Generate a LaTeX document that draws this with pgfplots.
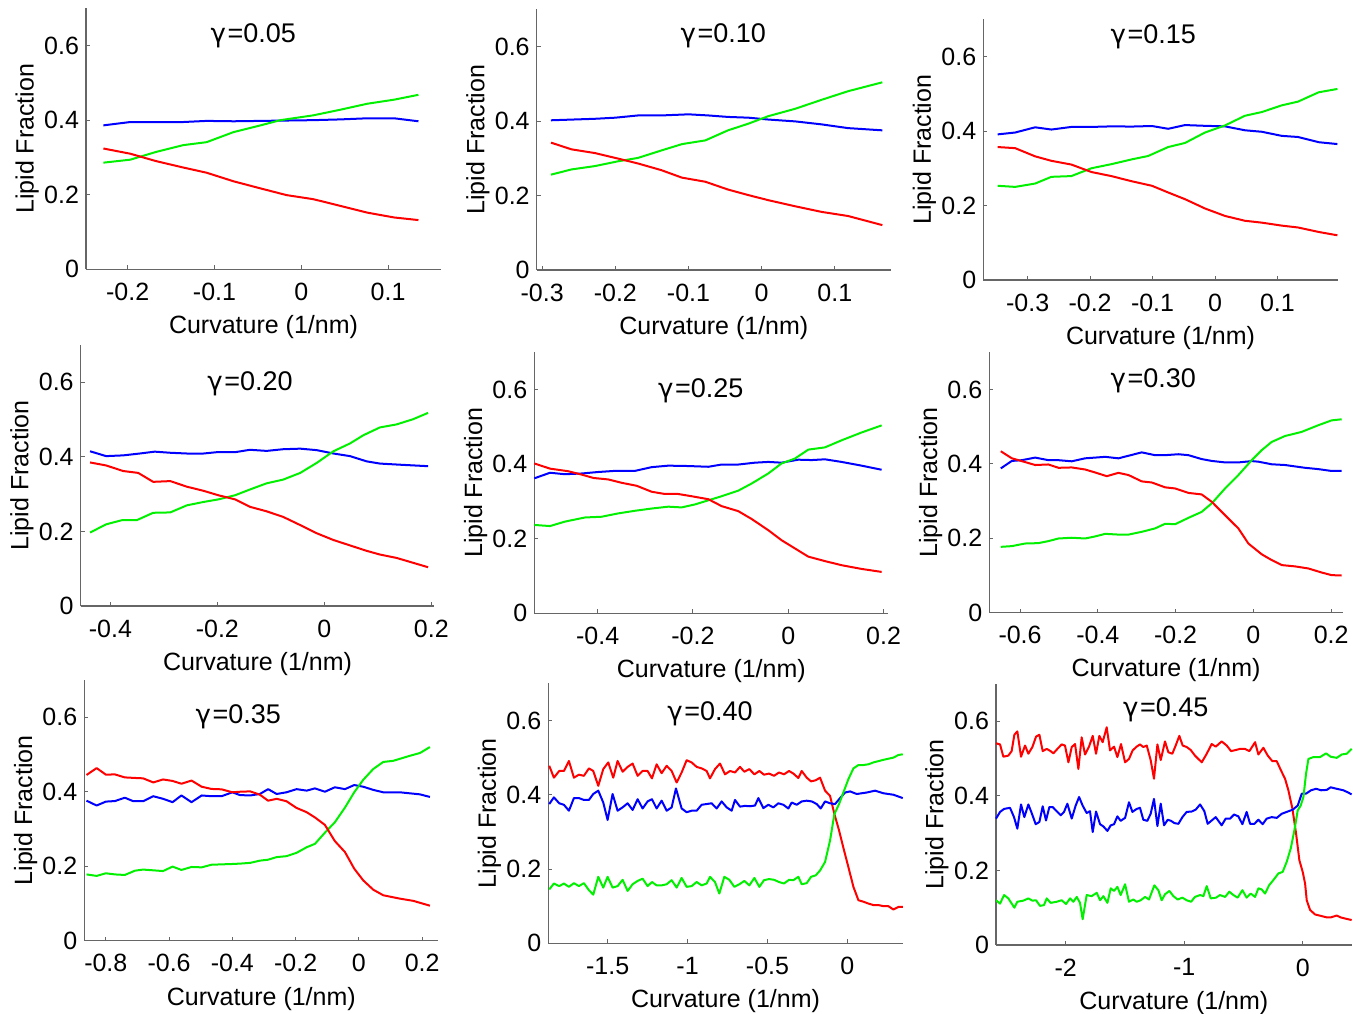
\documentclass[border=0pt]{standalone}
\usepackage{fontspec}
\setmainfont{Liberation Sans}
\newfontfamily\gfont{DejaVu Sans}
\usepackage{pgfplots}
\pgfplotsset{compat=1.18}
\definecolor{axgray}{gray}{0.4}
\definecolor{cR}{rgb}{1,0,0}
\definecolor{cG}{rgb}{0,0.94,0}
\definecolor{cB}{rgb}{0,0,1}
\newcommand\tfs{\fontsize{12.5}{15}\selectfont}
\newcommand\ttfs{\fontsize{13.5}{16}\selectfont}
\newcommand\gam[1]{{\gfont\fontsize{13}{16}\selectfont γ}\kern0.8pt=#1}
\pgfplotsset{
  panel/.style={
    scale only axis, anchor=south west,
    ymin=0, ymax=0.7, ytick={0,0.2,0.4,0.6},
    axis x line*=bottom, axis y line*=left,
    axis line style={draw=axgray,line width=0.6pt},
    tick style={draw=axgray,line width=0.5pt},
    tick align=inside, major tick length=2pt,
    /pgf/number format/assume math mode=true,
    ticklabel style={font=\tfs},
    x tick label style={yshift=-3.3pt},
    xlabel={Curvature (1/nm)}, ylabel={Lipid Fraction},
    label style={font=\tfs},
    x label style={at={(axis description cs:0.5,-0.222)},anchor=center},
    y label style={at={(axis description cs:-0.166,0.5)},anchor=center},
    every axis plot/.append style={line width=1pt, line join=round, no marks},
    clip=false,
  },
  R/.style={draw=cR}, G/.style={draw=cG}, B/.style={draw=cB},
}
\begin{document}
\begin{tikzpicture}
\useasboundingbox (0,0) rectangle (676.5pt,506.5pt);
% ---------- gamma = 0.05
\begin{axis}[panel, at={(43pt,371.85pt)}, width=177.5pt, height=130.5pt,
  xmin=-0.248, xmax=0.161, xtick={-0.2,-0.1,0,0.1}]
\addplot[B] coordinates {(-0.228,0.386) (-0.197,0.395) (-0.167,0.395) (-0.136,0.395) (-0.109,0.398) (-0.078,0.397) (-0.047,0.398) (-0.017,0.399) (0.014,0.400) (0.045,0.402) (0.076,0.405) (0.107,0.405) (0.135,0.397)};
\addplot[G] coordinates {(-0.228,0.286) (-0.197,0.294) (-0.167,0.315) (-0.136,0.333) (-0.109,0.341) (-0.078,0.368) (-0.047,0.386) (-0.024,0.400) (0.014,0.413) (0.045,0.428) (0.076,0.444) (0.107,0.455) (0.135,0.468)};
\addplot[R] coordinates {(-0.228,0.324) (-0.197,0.310) (-0.167,0.290) (-0.136,0.273) (-0.109,0.259) (-0.078,0.236) (-0.047,0.217) (-0.017,0.199) (0.014,0.188) (0.045,0.170) (0.076,0.152) (0.107,0.139) (0.135,0.132)};
\end{axis}
% ---------- gamma = 0.10
\begin{axis}[panel, at={(268.35pt,371.5pt)}, width=177.15pt, height=130.35pt,
  xmin=-0.3075, xmax=0.1768, xtick={-0.3,-0.2,-0.1,0,0.1}]
\addplot[B] coordinates {(-0.288,0.402) (-0.228,0.406) (-0.200,0.409) (-0.169,0.415) (-0.137,0.415) (-0.100,0.418) (-0.073,0.415) (-0.046,0.411) (-0.018,0.409) (0.009,0.404) (0.046,0.399) (0.082,0.391) (0.118,0.381) (0.165,0.375)};
\addplot[G] coordinates {(-0.288,0.256) (-0.260,0.270) (-0.228,0.279) (-0.196,0.292) (-0.169,0.301) (-0.137,0.321) (-0.109,0.338) (-0.077,0.348) (-0.046,0.375) (-0.018,0.393) (0.009,0.413) (0.046,0.433) (0.082,0.457) (0.118,0.480) (0.165,0.504)};
\addplot[R] coordinates {(-0.288,0.342) (-0.260,0.324) (-0.228,0.314) (-0.196,0.299) (-0.169,0.286) (-0.137,0.268) (-0.109,0.248) (-0.077,0.237) (-0.046,0.216) (-0.018,0.201) (0.009,0.1875) (0.046,0.171) (0.082,0.156) (0.118,0.145) (0.165,0.1205)};
\end{axis}
% ---------- gamma = 0.15
\begin{axis}[panel, at={(491.65pt,366.5pt)}, width=177.2pt, height=130.35pt,
  xmin=-0.371, xmax=0.1965, xtick={-0.3,-0.2,-0.1,0,0.1}]
\addplot[B] coordinates {(-0.348,0.391) (-0.320,0.396) (-0.288,0.410) (-0.262,0.404) (-0.230,0.411) (-0.198,0.411) (-0.166,0.4125) (-0.133,0.412) (-0.101,0.4135) (-0.075,0.406) (-0.048,0.416) (-0.016,0.414) (0.016,0.4125) (0.048,0.402) (0.075,0.398) (0.107,0.387) (0.133,0.384) (0.166,0.370) (0.196,0.365)};
\addplot[G] coordinates {(-0.348,0.253) (-0.320,0.250) (-0.288,0.259) (-0.262,0.277) (-0.230,0.279) (-0.198,0.300) (-0.166,0.311) (-0.133,0.324) (-0.107,0.333) (-0.075,0.357) (-0.048,0.368) (-0.016,0.396) (0.016,0.415) (0.048,0.441) (0.075,0.451) (0.107,0.469) (0.133,0.479) (0.166,0.504) (0.196,0.513)};
\addplot[R] coordinates {(-0.348,0.357) (-0.320,0.354) (-0.288,0.332) (-0.262,0.320) (-0.230,0.310) (-0.198,0.290) (-0.166,0.279) (-0.133,0.265) (-0.101,0.253) (-0.075,0.235) (-0.048,0.217) (-0.016,0.192) (0.016,0.172) (0.048,0.159) (0.075,0.154) (0.107,0.146) (0.133,0.141) (0.166,0.129) (0.196,0.120)};
\end{axis}
% ---------- gamma = 0.20
\begin{axis}[panel, at={(40.35pt,203.5pt)}, width=176.8pt, height=130.5pt,
  xmin=-0.4555, xmax=0.2056, xtick={-0.4,-0.2,0,0.2}]
\addplot[B] coordinates {(-0.438,0.415) (-0.408,0.402) (-0.376,0.404) (-0.345,0.409) (-0.317,0.414) (-0.288,0.411) (-0.257,0.409) (-0.226,0.409) (-0.198,0.413) (-0.167,0.4125) (-0.139,0.419) (-0.108,0.416) (-0.077,0.4205) (-0.045,0.422) (-0.014,0.418) (0.017,0.409) (0.048,0.402) (0.079,0.388) (0.104,0.382) (0.141,0.379) (0.194,0.375)};
\addplot[G] coordinates {(-0.438,0.197) (-0.408,0.219) (-0.379,0.230) (-0.351,0.230) (-0.320,0.250) (-0.288,0.251) (-0.257,0.270) (-0.226,0.279) (-0.198,0.286) (-0.167,0.297) (-0.139,0.3125) (-0.108,0.329) (-0.077,0.339) (-0.045,0.357) (-0.014,0.384) (0.017,0.415) (0.048,0.436) (0.073,0.458) (0.104,0.479) (0.135,0.487) (0.166,0.501) (0.194,0.518)};
\addplot[R] coordinates {(-0.438,0.385) (-0.408,0.377) (-0.376,0.362) (-0.348,0.357) (-0.320,0.333) (-0.288,0.335) (-0.257,0.320) (-0.226,0.309) (-0.198,0.297) (-0.167,0.286) (-0.139,0.266) (-0.108,0.254) (-0.077,0.239) (-0.045,0.217) (-0.014,0.195) (0.017,0.177) (0.048,0.1625) (0.079,0.148) (0.104,0.138) (0.135,0.129) (0.194,0.104)};
\end{axis}
% ---------- gamma = 0.25
\begin{axis}[panel, at={(267.15pt,199.85pt)}, width=177pt, height=130.5pt,
  xmin=-0.533, xmax=0.21, xtick={-0.4,-0.2,0,0.2}]
\addplot[B] coordinates {(-0.533,0.362) (-0.500,0.377) (-0.4685,0.373) (-0.4336,0.375) (-0.3986,0.379) (-0.3636,0.382) (-0.3217,0.382) (-0.2867,0.392) (-0.2517,0.396) (-0.2098,0.395) (-0.1678,0.393) (-0.1399,0.399) (-0.1049,0.399) (-0.0699,0.404) (-0.042,0.406) (-0.014,0.404) (0.021,0.412) (0.049,0.411) (0.077,0.413) (0.112,0.406) (0.154,0.396) (0.196,0.385)};
\addplot[G] coordinates {(-0.533,0.237) (-0.500,0.234) (-0.4685,0.246) (-0.4266,0.257) (-0.3916,0.259) (-0.3566,0.268) (-0.3217,0.275) (-0.2867,0.281) (-0.2517,0.286) (-0.2238,0.284) (-0.1958,0.292) (-0.1678,0.303) (-0.1399,0.314) (-0.1049,0.329) (-0.0769,0.348) (-0.042,0.375) (-0.014,0.402) (0.014,0.415) (0.042,0.439) (0.077,0.445) (0.112,0.464) (0.154,0.485) (0.196,0.504)};
\addplot[R] coordinates {(-0.533,0.402) (-0.500,0.388) (-0.4615,0.381) (-0.4336,0.372) (-0.409,0.363) (-0.3776,0.359) (-0.3497,0.350) (-0.318,0.342) (-0.2867,0.326) (-0.2587,0.320) (-0.2308,0.320) (-0.2028,0.314) (-0.1678,0.306) (-0.1399,0.2875) (-0.1049,0.274) (-0.0769,0.253) (-0.042,0.223) (-0.014,0.196) (0.014,0.174) (0.042,0.152) (0.077,0.140) (0.112,0.129) (0.154,0.119) (0.196,0.111)};
\end{axis}
% ---------- gamma = 0.30
\begin{axis}[panel, at={(494.65pt,200.15pt)}, width=176.7pt, height=130.2pt,
  xmin=-0.679, xmax=0.2297, xtick={-0.6,-0.4,-0.2,0,0.2}]
\addplot[B] coordinates {(-0.6495,0.388) (-0.621,0.408) (-0.5955,0.410) (-0.561,0.417) (-0.527,0.410) (-0.501,0.410) (-0.467,0.407) (-0.4327,0.415) (-0.381,0.419) (-0.347,0.415) (-0.321,0.422) (-0.287,0.431) (-0.253,0.4235) (-0.227,0.4235) (-0.193,0.426) (-0.167,0.4235) (-0.133,0.413) (-0.107,0.408) (-0.0728,0.404) (-0.0386,0.404) (-0.0043,0.4075) (0.0129,0.406) (0.047,0.399) (0.0814,0.397) (0.133,0.3895) (0.167,0.386) (0.201,0.381) (0.227,0.381)};
\addplot[G] coordinates {(-0.6495,0.177) (-0.621,0.179) (-0.587,0.186) (-0.5527,0.187) (-0.527,0.1925) (-0.501,0.1995) (-0.467,0.2015) (-0.4327,0.1995) (-0.407,0.205) (-0.381,0.212) (-0.347,0.210) (-0.321,0.210) (-0.287,0.2175) (-0.253,0.2265) (-0.227,0.239) (-0.201,0.238) (-0.167,0.255) (-0.133,0.271) (-0.107,0.294) (-0.0728,0.334) (-0.0386,0.370) (-0.0043,0.410) (0.0214,0.437) (0.047,0.459) (0.0814,0.475) (0.124,0.486) (0.167,0.504) (0.201,0.517) (0.227,0.520)};
\addplot[R] coordinates {(-0.6495,0.434) (-0.621,0.415) (-0.5955,0.4075) (-0.561,0.397) (-0.527,0.3985) (-0.501,0.3895) (-0.467,0.3905) (-0.4327,0.385) (-0.407,0.377) (-0.377,0.367) (-0.347,0.376) (-0.321,0.370) (-0.287,0.353) (-0.261,0.350) (-0.227,0.337) (-0.201,0.334) (-0.167,0.322) (-0.133,0.318) (-0.107,0.298) (-0.0728,0.262) (-0.0386,0.2265) (-0.0129,0.186) (0.0214,0.157) (0.047,0.1415) (0.0728,0.128) (0.107,0.1245) (0.141,0.119) (0.1757,0.108) (0.201,0.101) (0.227,0.100)};
\end{axis}
% ---------- gamma = 0.35
\begin{axis}[panel, at={(42.15pt,36.15pt)}, width=177pt, height=130.35pt,
  xmin=-0.868, xmax=0.251, xtick={-0.8,-0.6,-0.4,-0.2,0,0.2}]
\addplot[B] coordinates {(-0.861,0.376) (-0.829,0.363) (-0.800,0.3735) (-0.771,0.375) (-0.740,0.384) (-0.713,0.3745) (-0.682,0.3745) (-0.650,0.388) (-0.619,0.381) (-0.589,0.372) (-0.561,0.390) (-0.529,0.372) (-0.497,0.390) (-0.466,0.388) (-0.434,0.388) (-0.400,0.3985) (-0.376,0.391) (-0.3435,0.390) (-0.313,0.394) (-0.287,0.407) (-0.260,0.394) (-0.229,0.3985) (-0.197,0.407) (-0.165,0.403) (-0.139,0.409) (-0.1075,0.400) (-0.076,0.412) (-0.044,0.407) (-0.0148,0.418) (0.0137,0.4135) (0.0453,0.405) (0.077,0.3985) (0.1296,0.3985) (0.193,0.393) (0.2245,0.386)};
\addplot[G] coordinates {(-0.861,0.178) (-0.829,0.174) (-0.800,0.181) (-0.771,0.178) (-0.740,0.1765) (-0.708,0.188) (-0.682,0.191) (-0.650,0.189) (-0.619,0.187) (-0.589,0.199) (-0.561,0.190) (-0.529,0.198) (-0.497,0.197) (-0.466,0.204) (-0.434,0.205) (-0.400,0.206) (-0.376,0.207) (-0.3435,0.209) (-0.313,0.215) (-0.287,0.2175) (-0.260,0.2245) (-0.229,0.227) (-0.197,0.236) (-0.165,0.251) (-0.139,0.260) (-0.1075,0.290) (-0.076,0.318) (-0.044,0.3575) (-0.0148,0.3985) (0.0137,0.432) (0.0453,0.461) (0.077,0.480) (0.1085,0.483) (0.161,0.4965) (0.193,0.504) (0.2245,0.520)};
\addplot[R] coordinates {(-0.861,0.445) (-0.829,0.4635) (-0.800,0.446) (-0.771,0.4465) (-0.740,0.4385) (-0.708,0.437) (-0.682,0.436) (-0.650,0.425) (-0.619,0.433) (-0.589,0.429) (-0.561,0.4215) (-0.529,0.430) (-0.497,0.4135) (-0.466,0.4075) (-0.434,0.4065) (-0.400,0.3985) (-0.376,0.400) (-0.3435,0.401) (-0.313,0.392) (-0.287,0.376) (-0.260,0.381) (-0.229,0.3745) (-0.197,0.3565) (-0.165,0.345) (-0.139,0.331) (-0.1075,0.311) (-0.076,0.2675) (-0.044,0.238) (-0.0148,0.1935) (0.0137,0.162) (0.0453,0.137) (0.077,0.122) (0.1296,0.113) (0.172,0.107) (0.2245,0.094)};
\end{axis}
% ---------- gamma = 0.40
\begin{axis}[panel, at={(274.15pt,34.85pt)}, width=177.2pt, height=130pt,
  xmin=-1.871, xmax=0.346, xtick={-1.5,-1,-0.5,0}]
\addplot[R] coordinates {(-1.8652,0.478) (-1.8360,0.446) (-1.8027,0.464) (-1.7734,0.464) (-1.7421,0.491) (-1.7108,0.446) (-1.6796,0.454) (-1.6483,0.451) (-1.6170,0.471) (-1.5898,0.464) (-1.5585,0.424) (-1.5272,0.469) (-1.4959,0.487) (-1.4647,0.446) (-1.4375,0.491) (-1.4062,0.462) (-1.3749,0.475) (-1.3436,0.484) (-1.3123,0.451) (-1.2811,0.464) (-1.2498,0.464) (-1.2226,0.444) (-1.1934,0.482) (-1.1621,0.458) (-1.1308,0.478) (-1.0995,0.464) (-1.0682,0.433) (-1.0369,0.460) (-1.0056,0.493) (-0.9743,0.487) (-0.9431,0.475) (-0.9118,0.471) (-0.8805,0.464) (-0.8596,0.444) (-0.8283,0.469) (-0.7970,0.484) (-0.7657,0.455) (-0.7344,0.464) (-0.7031,0.460) (-0.6718,0.475) (-0.6447,0.462) (-0.6134,0.469) (-0.5821,0.455) (-0.5508,0.464) (-0.5216,0.454) (-0.4903,0.457) (-0.4590,0.451) (-0.4277,0.460) (-0.3964,0.455) (-0.3651,0.464) (-0.3380,0.457) (-0.3067,0.445) (-0.2858,0.464) (-0.2545,0.446) (-0.2274,0.436) (-0.1982,0.439) (-0.1711,0.446) (-0.1398,0.411) (-0.1085,0.397) (-0.0814,0.348) (-0.0522,0.304) (-0.0209,0.250) (0.0063,0.205) (0.0376,0.152) (0.0689,0.116) (0.1001,0.112) (0.1314,0.107) (0.1627,0.103) (0.1940,0.103) (0.2253,0.100) (0.2566,0.100) (0.2879,0.091) (0.3192,0.098) (0.3463,0.098)};
\addplot[B] coordinates {(-1.8652,0.375) (-1.8360,0.393) (-1.8027,0.377) (-1.7734,0.373) (-1.7421,0.357) (-1.7108,0.391) (-1.6796,0.391) (-1.6483,0.386) (-1.6170,0.386) (-1.5898,0.402) (-1.5585,0.411) (-1.5272,0.379) (-1.5001,0.332) (-1.4688,0.402) (-1.4375,0.357) (-1.4062,0.366) (-1.3749,0.377) (-1.3436,0.359) (-1.3123,0.388) (-1.2811,0.363) (-1.2498,0.382) (-1.2226,0.388) (-1.1934,0.363) (-1.1621,0.384) (-1.1308,0.357) (-1.0995,0.366) (-1.0724,0.417) (-1.0369,0.363) (-1.0056,0.353) (-0.9743,0.357) (-0.9431,0.357) (-0.9118,0.373) (-0.8805,0.375) (-0.8492,0.377) (-0.8179,0.363) (-0.7866,0.382) (-0.7553,0.366) (-0.7240,0.357) (-0.7031,0.386) (-0.6718,0.368) (-0.6405,0.370) (-0.6092,0.369) (-0.5779,0.371) (-0.5571,0.391) (-0.5258,0.364) (-0.4945,0.373) (-0.4632,0.366) (-0.4319,0.377) (-0.4006,0.373) (-0.3693,0.363) (-0.3484,0.379) (-0.3171,0.373) (-0.2858,0.382) (-0.2545,0.384) (-0.2232,0.382) (-0.1919,0.375) (-0.1669,0.363) (-0.1398,0.382) (-0.1085,0.377) (-0.0772,0.375) (-0.0459,0.391) (-0.0146,0.406) (0.0167,0.409) (0.0584,0.402) (0.1210,0.406) (0.1732,0.411) (0.2253,0.404) (0.2879,0.400) (0.3463,0.391)};
\addplot[G] coordinates {(-1.8652,0.145) (-1.8360,0.161) (-1.8027,0.154) (-1.7734,0.161) (-1.7421,0.152) (-1.7108,0.162) (-1.6796,0.154) (-1.6483,0.162) (-1.6170,0.143) (-1.5898,0.131) (-1.5585,0.179) (-1.5272,0.150) (-1.5001,0.179) (-1.4688,0.150) (-1.4375,0.154) (-1.4062,0.171) (-1.3749,0.141) (-1.3436,0.159) (-1.3123,0.168) (-1.2811,0.174) (-1.2498,0.154) (-1.2226,0.165) (-1.1934,0.156) (-1.1621,0.156) (-1.1308,0.159) (-1.0995,0.170) (-1.0682,0.150) (-1.0369,0.176) (-1.0056,0.152) (-0.9743,0.154) (-0.9431,0.165) (-0.9118,0.156) (-0.8805,0.161) (-0.8596,0.179) (-0.8283,0.165) (-0.8012,0.134) (-0.7699,0.179) (-0.7386,0.171) (-0.7073,0.152) (-0.6760,0.159) (-0.6447,0.168) (-0.6134,0.156) (-0.5821,0.176) (-0.5508,0.152) (-0.5216,0.170) (-0.4903,0.173) (-0.4590,0.171) (-0.4277,0.165) (-0.3964,0.161) (-0.3651,0.171) (-0.3380,0.170) (-0.3067,0.179) (-0.2858,0.159) (-0.2545,0.162) (-0.2274,0.179) (-0.1982,0.183) (-0.1711,0.196) (-0.1398,0.219) (-0.1085,0.277) (-0.0814,0.348) (-0.0522,0.375) (-0.0209,0.411) (0.0063,0.442) (0.0376,0.471) (0.0689,0.480) (0.1001,0.480) (0.1314,0.482) (0.1627,0.487) (0.2253,0.494) (0.2879,0.500) (0.3192,0.507) (0.3463,0.509)};
\end{axis}
% ---------- gamma = 0.45
\begin{axis}[panel, at={(498pt,34pt)}, width=177.85pt, height=130.5pt,
  xmin=-2.588, xmax=0.4135, xtick={-2,-1,0}]
\addplot[R] coordinates {(-2.588,0.541) (-2.554,0.538) (-2.526,0.505) (-2.484,0.508) (-2.456,0.520) (-2.433,0.564) (-2.408,0.573) (-2.377,0.505) (-2.343,0.535) (-2.315,0.513) (-2.281,0.531) (-2.250,0.559) (-2.222,0.564) (-2.194,0.520) (-2.160,0.526) (-2.127,0.520) (-2.104,0.514) (-2.070,0.526) (-2.034,0.538) (-2.006,0.535) (-1.977,0.490) (-1.949,0.531) (-1.921,0.539) (-1.893,0.472) (-1.865,0.557) (-1.837,0.511) (-1.803,0.532) (-1.772,0.561) (-1.744,0.513) (-1.716,0.561) (-1.688,0.544) (-1.654,0.584) (-1.626,0.522) (-1.592,0.532) (-1.564,0.504) (-1.533,0.539) (-1.499,0.490) (-1.466,0.499) (-1.435,0.522) (-1.401,0.532) (-1.373,0.538) (-1.345,0.531) (-1.316,0.535) (-1.283,0.496) (-1.255,0.446) (-1.226,0.538) (-1.198,0.496) (-1.162,0.546) (-1.134,0.517) (-1.100,0.513) (-1.072,0.535) (-1.041,0.561) (-1.013,0.535) (-0.979,0.531) (-0.945,0.523) (-0.909,0.508) (-0.852,0.490) (-0.810,0.513) (-0.768,0.539) (-0.734,0.532) (-0.684,0.546) (-0.641,0.535) (-0.605,0.520) (-0.565,0.523) (-0.529,0.526) (-0.487,0.526) (-0.450,0.520) (-0.402,0.544) (-0.374,0.511) (-0.332,0.529) (-0.295,0.508) (-0.256,0.493) (-0.219,0.493) (-0.183,0.468) (-0.149,0.446) (-0.121,0.415) (-0.087,0.366) (-0.056,0.299) (-0.028,0.227) (0,0.196) (0.020,0.165) (0.034,0.120) (0.062,0.094) (0.104,0.082) (0.155,0.078) (0.203,0.074) (0.236,0.074) (0.287,0.079) (0.321,0.074) (0.357,0.071) (0.413,0.067)};
\addplot[B] coordinates {(-2.588,0.339) (-2.554,0.357) (-2.520,0.365) (-2.470,0.368) (-2.436,0.343) (-2.408,0.312) (-2.377,0.377) (-2.349,0.343) (-2.315,0.377) (-2.287,0.354) (-2.253,0.324) (-2.222,0.330) (-2.194,0.372) (-2.166,0.334) (-2.138,0.370) (-2.110,0.370) (-2.076,0.359) (-2.042,0.348) (-2.014,0.357) (-1.986,0.379) (-1.949,0.339) (-1.916,0.374) (-1.887,0.397) (-1.857,0.374) (-1.823,0.354) (-1.795,0.359) (-1.772,0.303) (-1.744,0.358) (-1.710,0.324) (-1.682,0.318) (-1.648,0.306) (-1.620,0.321) (-1.592,0.324) (-1.564,0.345) (-1.536,0.333) (-1.499,0.341) (-1.466,0.383) (-1.437,0.357) (-1.401,0.365) (-1.373,0.368) (-1.345,0.336) (-1.311,0.333) (-1.283,0.352) (-1.255,0.392) (-1.226,0.319) (-1.198,0.379) (-1.170,0.321) (-1.139,0.336) (-1.111,0.333) (-1.083,0.327) (-1.049,0.325) (-1.015,0.343) (-0.979,0.357) (-0.937,0.358) (-0.903,0.363) (-0.866,0.377) (-0.830,0.359) (-0.802,0.325) (-0.768,0.334) (-0.734,0.343) (-0.684,0.321) (-0.650,0.339) (-0.613,0.339) (-0.579,0.350) (-0.543,0.345) (-0.509,0.324) (-0.473,0.357) (-0.444,0.325) (-0.408,0.325) (-0.374,0.336) (-0.338,0.324) (-0.304,0.339) (-0.262,0.343) (-0.219,0.341) (-0.177,0.352) (-0.135,0.357) (-0.084,0.363) (-0.042,0.374) (-0.008,0.406) (0.028,0.406) (0.070,0.415) (0.113,0.419) (0.155,0.415) (0.203,0.416) (0.236,0.423) (0.287,0.419) (0.343,0.415) (0.377,0.410) (0.413,0.404)};
\addplot[G] coordinates {(-2.588,0.120) (-2.554,0.111) (-2.520,0.134) (-2.484,0.125) (-2.433,0.100) (-2.408,0.116) (-2.357,0.119) (-2.315,0.125) (-2.281,0.119) (-2.250,0.120) (-2.217,0.105) (-2.183,0.107) (-2.160,0.125) (-2.127,0.113) (-2.076,0.116) (-2.034,0.120) (-1.997,0.110) (-1.963,0.125) (-1.935,0.116) (-1.907,0.129) (-1.879,0.113) (-1.857,0.069) (-1.823,0.134) (-1.781,0.131) (-1.738,0.140) (-1.710,0.120) (-1.682,0.131) (-1.648,0.113) (-1.620,0.152) (-1.592,0.145) (-1.564,0.156) (-1.536,0.134) (-1.499,0.163) (-1.466,0.116) (-1.429,0.122) (-1.401,0.116) (-1.367,0.120) (-1.330,0.129) (-1.297,0.122) (-1.252,0.160) (-1.218,0.147) (-1.190,0.120) (-1.162,0.136) (-1.125,0.145) (-1.091,0.131) (-1.055,0.122) (-1.015,0.127) (-0.979,0.120) (-0.942,0.116) (-0.909,0.129) (-0.866,0.134) (-0.838,0.131) (-0.810,0.158) (-0.776,0.125) (-0.731,0.127) (-0.698,0.134) (-0.655,0.129) (-0.619,0.143) (-0.585,0.134) (-0.549,0.127) (-0.509,0.147) (-0.473,0.127) (-0.439,0.138) (-0.402,0.129) (-0.374,0.152) (-0.346,0.149) (-0.318,0.138) (-0.284,0.160) (-0.248,0.174) (-0.205,0.192) (-0.169,0.196) (-0.135,0.223) (-0.101,0.259) (-0.070,0.308) (-0.042,0.361) (-0.017,0.374) (0.006,0.397) (0.028,0.459) (0.048,0.499) (0.090,0.504) (0.146,0.504) (0.197,0.514) (0.236,0.505) (0.287,0.502) (0.329,0.511) (0.371,0.513) (0.413,0.526)};
\end{axis}
% ---------- titles
\node[font=\ttfs, anchor=base] at (126.65pt,485.42pt) {\gam{0.05}};
\node[font=\ttfs, anchor=base] at (361.65pt,485.02pt) {\gam{0.10}};
\node[font=\ttfs, anchor=base] at (576.65pt,484.67pt) {\gam{0.15}};
\node[font=\ttfs, anchor=base] at (125pt,311.27pt) {\gam{0.20}};
\node[font=\ttfs, anchor=base] at (350.4pt,307.92pt) {\gam{0.25}};
\node[font=\ttfs, anchor=base] at (576.65pt,312.92pt) {\gam{0.30}};
\node[font=\ttfs, anchor=base] at (119.15pt,144.67pt) {\gam{0.35}};
\node[font=\ttfs, anchor=base] at (355pt,146.17pt) {\gam{0.40}};
\node[font=\ttfs, anchor=base] at (582.9pt,148.32pt) {\gam{0.45}};
\end{tikzpicture}
\end{document}
